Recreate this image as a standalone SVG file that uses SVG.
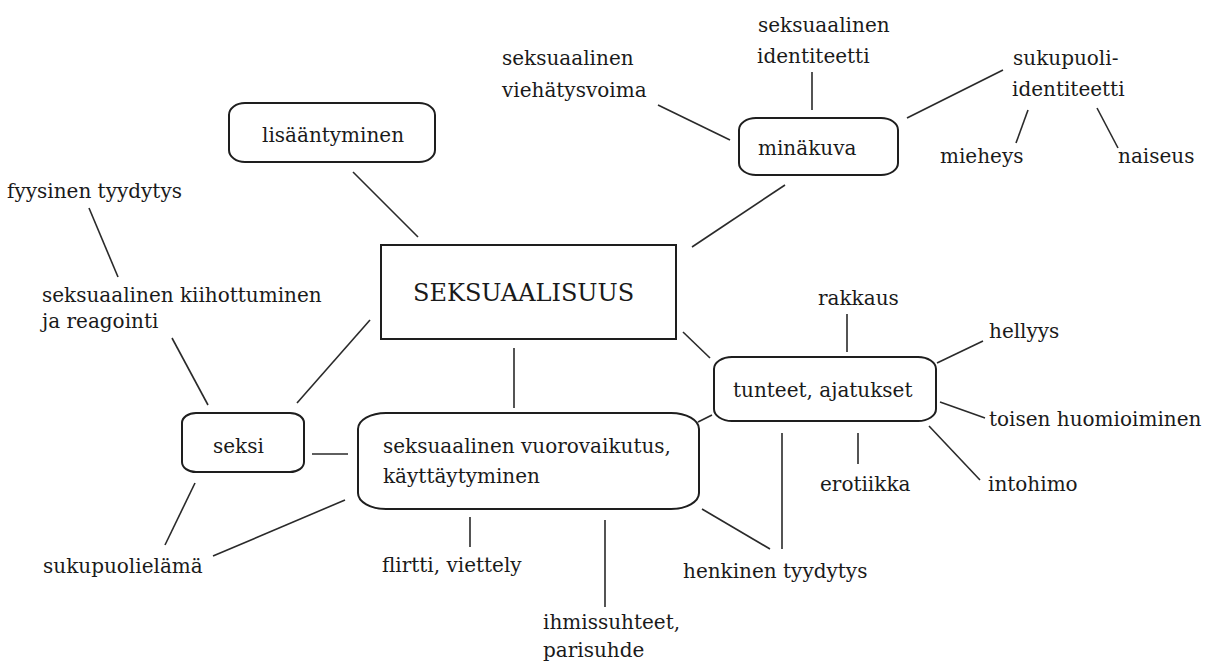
<svg xmlns="http://www.w3.org/2000/svg" width="1212" height="669" viewBox="0 0 1212 669">
<style>
text{font-family:'DejaVu Serif','Liberation Serif',serif;font-size:20px;fill:#1a1a1a}
.box{fill:#ffffff;stroke:#1e1e1e;stroke-width:2}
.c line{stroke:#2a2a2a;stroke-width:1.6}
</style>
<rect width="1212" height="669" fill="#ffffff"/>
<g class="c" id="connectors">
<line x1="353" y1="172" x2="418" y2="237"/>
<line x1="692" y1="247" x2="785" y2="185"/>
<line x1="658" y1="105" x2="730" y2="140"/>
<line x1="812" y1="72" x2="812" y2="110"/>
<line x1="907" y1="118" x2="1003" y2="70"/>
<line x1="1028" y1="110" x2="1016" y2="143"/>
<line x1="1097" y1="108" x2="1118" y2="148"/>
<line x1="89" y1="208" x2="118" y2="277"/>
<line x1="172" y1="338" x2="208" y2="405"/>
<line x1="370" y1="320" x2="297" y2="403"/>
<line x1="312" y1="454" x2="348" y2="454"/>
<line x1="195" y1="483" x2="165" y2="545"/>
<line x1="345" y1="500" x2="213" y2="556"/>
<line x1="514" y1="348" x2="514" y2="408"/>
<line x1="470" y1="517" x2="470" y2="547"/>
<line x1="605" y1="520" x2="605" y2="607"/>
<line x1="702" y1="509" x2="770" y2="549"/>
<line x1="782" y1="433" x2="782" y2="549"/>
<line x1="683" y1="332" x2="710" y2="358"/>
<line x1="712" y1="415" x2="698" y2="422"/>
<line x1="847" y1="314" x2="847" y2="352"/>
<line x1="937" y1="363" x2="983" y2="341"/>
<line x1="940" y1="402" x2="985" y2="418"/>
<line x1="858" y1="433" x2="858" y2="464"/>
<line x1="929" y1="426" x2="980" y2="480"/>
</g>
<g id="n-seksuaalisuus">
<rect class="box" x="381" y="245" width="295" height="94"/>
<text x="413" y="301" style="font-size:24px">SEKSUAALISUUS</text>
</g>
<g id="n-minakuva">
<rect class="box" x="739" y="118" width="159" height="57" rx="17" ry="12"/>
<text x="758" y="155">minäkuva</text>
</g>
<g id="n-lisaantyminen">
<rect class="box" x="229" y="103" width="206" height="59" rx="16" ry="12"/>
<text x="262" y="142">lisääntyminen</text>
</g>
<g id="n-seksi">
<rect class="box" x="182" y="413" width="122" height="59" rx="14" ry="10"/>
<text x="213" y="453">seksi</text>
</g>
<g id="n-vuorovaikutus">
<rect class="box" x="358" y="413" width="341" height="96" rx="28" ry="16"/>
<text x="383" y="453">seksuaalinen vuorovaikutus,</text>
<text x="383" y="483">käyttäytyminen</text>
</g>
<g id="n-tunteet">
<rect class="box" x="714" y="357" width="222" height="64" rx="18" ry="12"/>
<text x="733" y="397">tunteet, ajatukset</text>
</g>
<g id="n-seks-identiteetti">
<text x="758" y="32">seksuaalinen</text>
<text x="757" y="63">identiteetti</text>
</g>
<g id="n-viehatysvoima">
<text x="502" y="65">seksuaalinen</text>
<text x="502" y="97">viehätysvoima</text>
</g>
<g id="n-sukupuoli-identiteetti">
<text x="1013" y="65">sukupuoli-</text>
<text x="1012" y="96">identiteetti</text>
</g>
<g id="n-mieheys"><text x="940" y="163">mieheys</text></g>
<g id="n-naiseus"><text x="1118" y="163">naiseus</text></g>
<g id="n-fyysinen"><text x="7" y="198">fyysinen tyydytys</text></g>
<g id="n-kiihottuminen">
<text x="42" y="302">seksuaalinen kiihottuminen</text>
<text x="42" y="328">ja reagointi</text>
</g>
<g id="n-sukupuolielama"><text x="43" y="573">sukupuolielämä</text></g>
<g id="n-flirtti"><text x="382" y="572">flirtti, viettely</text></g>
<g id="n-ihmissuhteet">
<text x="543" y="629">ihmissuhteet,</text>
<text x="543" y="657">parisuhde</text>
</g>
<g id="n-henkinen"><text x="683" y="578">henkinen tyydytys</text></g>
<g id="n-rakkaus"><text x="818" y="305">rakkaus</text></g>
<g id="n-hellyys"><text x="989" y="338">hellyys</text></g>
<g id="n-toisen"><text x="989" y="426">toisen huomioiminen</text></g>
<g id="n-erotiikka"><text x="820" y="491">erotiikka</text></g>
<g id="n-intohimo"><text x="988" y="491">intohimo</text></g>
</svg>
